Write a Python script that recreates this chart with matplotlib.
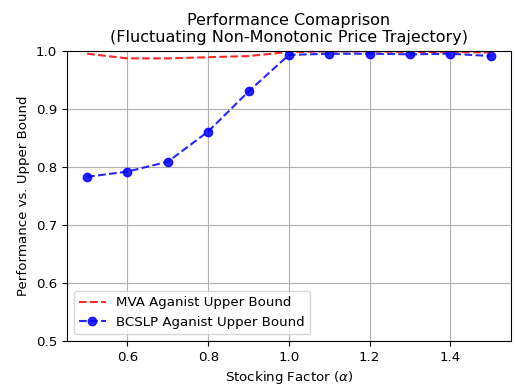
import matplotlib
matplotlib.use("Agg")
import matplotlib.pyplot as plt

stocking_factor = [0.5, 0.6, 0.7, 0.8, 0.9, 1.0, 1.1, 1.2, 1.3, 1.4, 1.5]
mva_perf = [0.995, 0.987, 0.987, 0.989, 0.991, 0.998, 0.999, 0.999, 0.998, 0.998, 0.997]
bcslp_perf = [0.783, 0.792, 0.809, 0.861, 0.930, 0.993, 0.995, 0.995, 0.994, 0.995, 0.991]

plt.rcParams["font.size"] = 9.6

fig = plt.figure(figsize=(5.15, 3.88), dpi=100)
ax = fig.add_axes([0.130, 0.121, 0.862, 0.748])

ax.plot(stocking_factor, mva_perf, "r--", alpha=0.85, label="MVA Aganist Upper Bound")
ax.plot(stocking_factor, bcslp_perf, "bo--", alpha=0.85, label="BCSLP Aganist Upper Bound")

ax.set_ylim(0.5, 1.0)
ax.grid(True, color="#b0b0b0")
ax.legend(loc="lower left")
ax.set_title("Performance Comaprison\n(Fluctuating Non-Monotonic Price Trajectory)")
ax.set_xlabel(r"Stocking Factor ($\alpha$)")
ax.set_ylabel("Performance vs. Upper Bound")

fig.savefig("out.png", dpi=100)
